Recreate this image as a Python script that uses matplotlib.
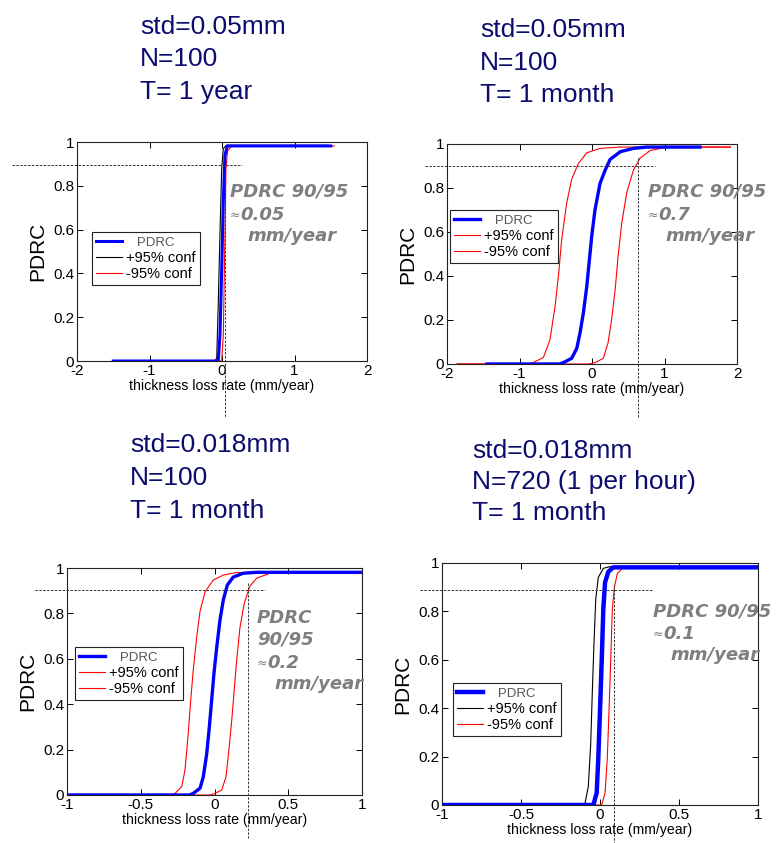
"""
PDRC curves for four measurement scenarios (std, N, T), 2x2 layout.
"""

import matplotlib
matplotlib.use("Agg")
import matplotlib.pyplot as plt
from matplotlib.ticker import FormatStrFormatter

plt.rcParams["font.family"] = ["Liberation Sans", "DejaVu Sans"]
plt.rcParams["axes.unicode_minus"] = False

W, H = 777, 843

# ── Data ───────────────────────────────────────────────────
# panel 1: std=0.05mm, N=100, T=1 year
p1_pdrc_x = [-1.5, -0.07, -0.051, -0.028, -0.004, 0.018, 0.041, 0.073, 1.5]
p1_pdrc_y = [0.0, 0.0, 0.005, 0.12, 0.42, 0.73, 0.94, 0.982, 0.982]
p1_up_x = [-1.45, -0.1, -0.073, -0.051, -0.028, -0.004, 0.018, 0.06, 1.45]
p1_up_y = [0.0, 0.0, 0.012, 0.27, 0.58, 0.88, 0.97, 0.985, 0.985]
p1_lo_x = [-1.45, -0.02, -0.004, 0.018, 0.041, 0.055, 0.078, 0.134, 1.55]
p1_lo_y = [0.0, 0.0, 0.005, 0.12, 0.58, 0.88, 0.96, 0.982, 0.982]

# panel 2: std=0.05mm, N=100, T=1 month
p2_pdrc_x = [-1.45, -0.45, -0.396, -0.28, -0.21, -0.166, -0.12, -0.073, -0.037,
             -0.004, 0.041, 0.11, 0.18, 0.25, 0.39, 0.57, 0.75, 1.49]
p2_pdrc_y = [0.0, 0.0, 0.006, 0.026, 0.071, 0.14, 0.23, 0.35, 0.47,
             0.58, 0.70, 0.82, 0.88, 0.93, 0.965, 0.98, 0.986, 0.986]
p2_up_x = [-1.86, -0.9, -0.81, -0.67, -0.58, -0.51, -0.46, -0.42, -0.35,
           -0.28, -0.19, -0.073, 0.11, 0.39, 1.91]
p2_up_y = [0.0, 0.0, 0.006, 0.03, 0.11, 0.26, 0.41, 0.56, 0.73,
           0.84, 0.91, 0.96, 0.98, 0.986, 0.986]
p2_lo_x = [-1.86, -0.05, 0.041, 0.157, 0.22, 0.27, 0.32, 0.36, 0.41,
           0.48, 0.57, 0.66, 0.8, 1.03, 1.91]
p2_lo_y = [0.0, 0.0, 0.006, 0.026, 0.094, 0.2, 0.34, 0.49, 0.64,
           0.78, 0.88, 0.935, 0.97, 0.986, 0.986]

# panel 3: std=0.018mm, N=100, T=1 month
p3_pdrc_x = [-1.0, -0.17, -0.144, -0.098, -0.076, -0.053, -0.035, -0.019, -0.003,
             0.015, 0.037, 0.06, 0.087, 0.127, 0.195, 0.286, 1.0]
p3_pdrc_y = [0.0, 0.0, 0.007, 0.03, 0.08, 0.18, 0.30, 0.42, 0.54,
             0.65, 0.77, 0.86, 0.925, 0.96, 0.977, 0.981, 0.981]
p3_up_x = [-0.66, -0.3, -0.268, -0.222, -0.2, -0.178, -0.161, -0.144, -0.12,
           -0.098, -0.064, -0.008, 0.06, 0.15, 1.0]
p3_up_y = [0.0, 0.0, 0.007, 0.037, 0.11, 0.27, 0.42, 0.55, 0.70,
           0.81, 0.895, 0.947, 0.969, 0.98, 0.98]
p3_lo_x = [-0.66, -0.03, 0.003, 0.049, 0.078, 0.098, 0.117, 0.132, 0.15,
           0.173, 0.202, 0.24, 0.286, 0.376, 0.467, 1.0]
p3_lo_y = [0.0, 0.0, 0.007, 0.022, 0.08, 0.2, 0.33, 0.45, 0.59,
           0.74, 0.845, 0.92, 0.955, 0.977, 0.98, 0.98]

# panel 4: std=0.018mm, N=720, T=1 month
p4_pdrc_x = [-1.0, -0.042, -0.021, -0.011, 0.0, 0.011, 0.021, 0.032, 0.053, 0.084, 1.0]
p4_pdrc_y = [0.0, 0.0, 0.05, 0.19, 0.39, 0.6, 0.81, 0.92, 0.964, 0.982, 0.982]
p4_up_x = [-1.0, -0.11, -0.095, -0.074, -0.059, -0.049, -0.038, -0.027, -0.011, 0.021, 0.063, 1.0]
p4_up_y = [0.0, 0.0, 0.007, 0.076, 0.25, 0.46, 0.67, 0.85, 0.94, 0.978, 0.985, 0.985]
p4_lo_x = [-1.0, 0.011, 0.032, 0.046, 0.057, 0.068, 0.078, 0.091, 0.11, 0.148, 1.0]
p4_lo_y = [0.0, 0.0, 0.05, 0.19, 0.39, 0.6, 0.81, 0.9, 0.957, 0.982, 0.982]

titles = [
    ["std=0.05mm", "N=100", "T= 1 year"],
    ["std=0.05mm", "N=100", "T= 1 month"],
    ["std=0.018mm", "N=100", "T= 1 month"],
    ["std=0.018mm", "N=720 (1 per hour)", "T= 1 month"],
]
pdrc_values = ["0.05", "0.7", "0.2", "0.1"]
guide_x = [0.046, 0.64, 0.23, 0.09]      # PDRC 90/95 read-off
guide_y = [0.895, 0.9, 0.904, 0.887]     # 90% level line
up_colors = ["black", "red", "red", "black"]
pdrc_widths = [2.2, 2.4, 2.4, 3.2]

curves = [
    (p1_pdrc_x, p1_pdrc_y, p1_up_x, p1_up_y, p1_lo_x, p1_lo_y),
    (p2_pdrc_x, p2_pdrc_y, p2_up_x, p2_up_y, p2_lo_x, p2_lo_y),
    (p3_pdrc_x, p3_pdrc_y, p3_up_x, p3_up_y, p3_lo_x, p3_lo_y),
    (p4_pdrc_x, p4_pdrc_y, p4_up_x, p4_up_y, p4_lo_x, p4_lo_y),
]

# ── Layout (pixel boxes: left, top, right, bottom) ─────────
axes_px = [(77, 142, 367, 361), (447, 144, 737, 364),
           (67, 568, 362, 795), (442, 563, 758, 805)]
xlims = [(-2, 2), (-2, 2), (-1, 1), (-1, 1)]
xticks = [[-2, -1, 0, 1, 2], [-2, -1, 0, 1, 2],
          [-1, -0.5, 0, 0.5, 1], [-1, -0.5, 0, 0.5, 1]]
hline_px = [(12, 242), (425, 655), (35, 265), (420, 652)]
vline_bottom_px = [417, 417, 838, 843]
vline_top_px = [165, 158, 583, 585]
legend_px = [(92, 232), (450, 210), (75, 647), (453, 683)]
title_px = [(140, 27), (480, 30), (130, 445), (472, 451)]
title_step = [32.5, 32.5, 33, 31]
note_px = [(230, 192), (648, 192), (257, 618), (653, 611)]
note_two_lines = [False, False, True, False]


def fx(px):
    return px / W


def fy(py):
    return 1 - py / H


fig = plt.figure(figsize=(W / 100, H / 100), dpi=100)

for i in range(4):
    l, t, r, b = axes_px[i]
    ax = fig.add_axes([fx(l), fy(b), (r - l) / W, (b - t) / H])
    px_, py_, ux, uy, lx, ly = curves[i]
    ax.plot(px_, py_, color="#0000ff", lw=pdrc_widths[i], label="   PDRC",
            zorder=3, solid_joinstyle="round")
    ax.plot(ux, uy, color=up_colors[i], lw=0.8, label="+95% conf", zorder=2)
    ax.plot(lx, ly, color="red", lw=0.8, label="-95% conf", zorder=2)

    x0, x1 = xlims[i]
    ax.set_xlim(x0, x1)
    ax.set_ylim(0, 1)
    ax.set_xticks(xticks[i])
    ax.set_yticks([0, 0.2, 0.4, 0.6, 0.8, 1])
    ax.xaxis.set_major_formatter(FormatStrFormatter("%g"))
    ax.yaxis.set_major_formatter(FormatStrFormatter("%g"))
    ax.tick_params(direction="in", top=True, right=True, length=4,
                   width=0.7, labelsize=11, pad=2)
    for s in ax.spines.values():
        s.set_linewidth(0.8)
        s.set_color("#222222")
    ax.set_xlabel("thickness loss rate (mm/year)", fontsize=10.2, labelpad=1)
    ax.set_ylabel("PDRC", fontsize=15, labelpad=4)

    # dashed guide lines at 90% and at the PDRC 90/95 value
    xs = (x1 - x0) / (r - l)
    ys = 1.0 / (b - t)
    hx0 = x0 + (hline_px[i][0] - l) * xs
    hx1 = x0 + (hline_px[i][1] - l) * xs
    ax.plot([hx0, hx1], [guide_y[i], guide_y[i]], color="#333333", lw=0.7,
            ls=(0, (2.5, 1.5)), clip_on=False, zorder=4)
    vy0 = (b - vline_top_px[i]) * ys
    vy1 = (b - vline_bottom_px[i]) * ys
    ax.plot([guide_x[i], guide_x[i]], [vy0, vy1], color="#333333", lw=0.7,
            ls=(0, (2.5, 1.5)), clip_on=False, zorder=4)

    lg = ax.legend(loc="upper left", bbox_to_anchor=(fx(legend_px[i][0]), fy(legend_px[i][1])),
                   bbox_transform=fig.transFigure, fontsize=10.5, frameon=True,
                   fancybox=False, edgecolor="#222222", framealpha=1,
                   handlelength=1.8, handletextpad=0.3, borderpad=0.25,
                   labelspacing=0.15, borderaxespad=0)
    lg.get_frame().set_linewidth(0.8)
    lg.get_texts()[0].set_color("#555555")
    lg.get_texts()[0].set_fontsize(9.5)

    # scenario heading
    tx, ty = title_px[i]
    for k, line in enumerate(titles[i]):
        fig.text(fx(tx), fy(ty + k * title_step[i]), line, fontsize=19,
                 color="#0c0c6e", va="center", ha="left")

    # PDRC 90/95 annotation
    nx, ny = note_px[i]
    note_kw = dict(fontsize=13, color="#7f7f7f", fontweight="bold",
                   fontstyle="oblique", family="DejaVu Sans", va="center", ha="left")
    if note_two_lines[i]:
        fig.text(fx(nx), fy(ny), "PDRC", **note_kw)
        fig.text(fx(nx), fy(ny + 22), "90/95", **note_kw)
        ny += 22
    else:
        fig.text(fx(nx), fy(ny), "PDRC 90/95", **note_kw)
    fig.text(fx(nx), fy(ny + 23), "\u2248", fontsize=9, color="#7f7f7f",
             family="DejaVu Sans", va="center", ha="left")
    fig.text(fx(nx + 10), fy(ny + 23), pdrc_values[i], **note_kw)
    fig.text(fx(nx + 17), fy(ny + 44), "mm/year", **note_kw)

fig.savefig("out.png", dpi=100)
print("Saved: out.png")
